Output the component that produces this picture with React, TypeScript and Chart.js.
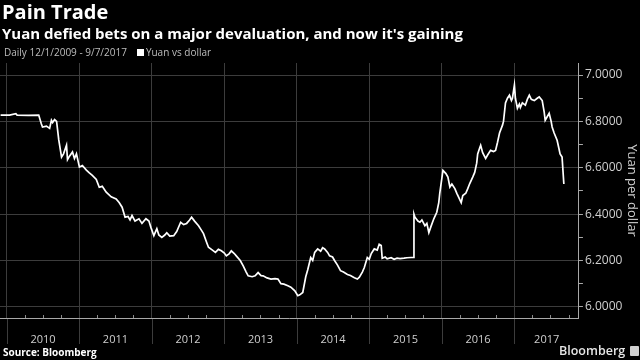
import React, { useEffect, useRef } from "react";
import { Chart, registerables } from "chart.js";

Chart.register(...registerables);

// ---- Data: daily USD/CNY ----
const dates: string[] = [
  "2009-12-01", "2010-01-15", "2010-02-16", "2010-02-22", "2010-04-20", "2010-06-11", "2010-06-24", "2010-06-30",
  "2010-07-20", "2010-08-05", "2010-08-14", "2010-08-20", "2010-08-30", "2010-09-09", "2010-09-20", "2010-10-04",
  "2010-10-14", "2010-10-29", "2010-11-03", "2010-11-13", "2010-11-28", "2010-12-08", "2010-12-18", "2011-01-02",
  "2011-01-17", "2011-02-06", "2011-02-21", "2011-03-08", "2011-03-28", "2011-04-12", "2011-04-27", "2011-05-17",
  "2011-06-11", "2011-07-06", "2011-07-21", "2011-08-05", "2011-08-20", "2011-09-04", "2011-09-14", "2011-09-24",
  "2011-10-09", "2011-10-29", "2011-11-13", "2011-12-03", "2011-12-18", "2011-12-28", "2012-01-12", "2012-01-27",
  "2012-02-06", "2012-02-21", "2012-03-07", "2012-03-17", "2012-04-01", "2012-04-21", "2012-05-06", "2012-05-26",
  "2012-06-10", "2012-06-25", "2012-07-10", "2012-07-20", "2012-08-04", "2012-08-24", "2012-09-08", "2012-09-18",
  "2012-10-03", "2012-10-13", "2012-11-02", "2012-11-17", "2012-12-02", "2012-12-17", "2013-01-01", "2013-01-11",
  "2013-01-26", "2013-02-05", "2013-02-20", "2013-03-02", "2013-03-22", "2013-04-06", "2013-04-21", "2013-05-01",
  "2013-05-21", "2013-06-05", "2013-06-20", "2013-07-05", "2013-07-15", "2013-08-04", "2013-08-24", "2013-09-13",
  "2013-09-28", "2013-10-13", "2013-10-28", "2013-11-17", "2013-12-02", "2013-12-22", "2014-01-06", "2014-01-16",
  "2014-01-31", "2014-02-15", "2014-02-25", "2014-03-12", "2014-03-22", "2014-04-01", "2014-04-16", "2014-05-01",
  "2014-05-11", "2014-05-21", "2014-06-05", "2014-06-15", "2014-06-30", "2014-07-10", "2014-07-25", "2014-08-09",
  "2014-08-24", "2014-09-13", "2014-09-28", "2014-10-18", "2014-11-02", "2014-11-12", "2014-11-27", "2014-12-07",
  "2014-12-22", "2015-01-01", "2015-01-11", "2015-01-26", "2015-02-10", "2015-02-20", "2015-03-02", "2015-03-07",
  "2015-03-22", "2015-04-01", "2015-04-21", "2015-05-06", "2015-05-21", "2015-06-05", "2015-06-25", "2015-07-10",
  "2015-07-30", "2015-08-10", "2015-08-14", "2015-08-19", "2015-09-03", "2015-09-13", "2015-09-23", "2015-10-08",
  "2015-10-18", "2015-10-28", "2015-11-07", "2015-11-22", "2015-12-07", "2015-12-17", "2015-12-22", "2016-01-07",
  "2016-01-22", "2016-02-01", "2016-02-11", "2016-02-21", "2016-03-07", "2016-03-17", "2016-04-08", "2016-04-16",
  "2016-05-01", "2016-05-11", "2016-05-21", "2016-06-05", "2016-06-15", "2016-06-25", "2016-06-30", "2016-07-10",
  "2016-07-15", "2016-07-25", "2016-08-09", "2016-08-19", "2016-09-03", "2016-09-18", "2016-09-28", "2016-10-08",
  "2016-10-18", "2016-11-02", "2016-11-07", "2016-11-17", "2016-11-27", "2016-12-07", "2016-12-17", "2016-12-22",
  "2017-01-01", "2017-01-06", "2017-01-16", "2017-01-26", "2017-01-31", "2017-02-10", "2017-02-25", "2017-03-07",
  "2017-03-17", "2017-03-27", "2017-04-11", "2017-04-26", "2017-05-06", "2017-05-21", "2017-05-31", "2017-06-05",
  "2017-06-15", "2017-06-25", "2017-07-05", "2017-07-10", "2017-07-20", "2017-08-04", "2017-08-14", "2017-08-19",
  "2017-08-29", "2017-09-07",
];

const yuan: number[] = [
  6.8275, 6.8270, 6.8330, 6.8272, 6.8260, 6.8275, 6.7900, 6.7760,
  6.7800, 6.7700, 6.8050, 6.7950, 6.8080, 6.8000, 6.7200, 6.6460,
  6.6600, 6.6970, 6.6350, 6.6500, 6.6680, 6.6400, 6.6600, 6.6030,
  6.6100, 6.5900, 6.5780, 6.5670, 6.5500, 6.5160, 6.5200, 6.4950,
  6.4750, 6.4660, 6.4500, 6.4300, 6.3870, 6.3900, 6.3750, 6.3940,
  6.3700, 6.3800, 6.3600, 6.3800, 6.3700, 6.3430, 6.3070, 6.3370,
  6.3100, 6.3000, 6.3100, 6.3200, 6.3050, 6.3070, 6.3250, 6.3650,
  6.3550, 6.3600, 6.3750, 6.3870, 6.3700, 6.3500, 6.3300, 6.3160,
  6.2800, 6.2570, 6.2450, 6.2350, 6.2480, 6.2420, 6.2320, 6.2200,
  6.2300, 6.2420, 6.2300, 6.2200, 6.2000, 6.1770, 6.1500, 6.1340,
  6.1300, 6.1340, 6.1480, 6.1350, 6.1340, 6.1250, 6.1200, 6.1220,
  6.1200, 6.1000, 6.0980, 6.0910, 6.0850, 6.0690, 6.0480, 6.0520,
  6.0620, 6.1300, 6.1600, 6.2130, 6.2000, 6.2350, 6.2500, 6.2400,
  6.2550, 6.2500, 6.2350, 6.2200, 6.2150, 6.2000, 6.1800, 6.1560,
  6.1500, 6.1400, 6.1350, 6.1260, 6.1200, 6.1280, 6.1500, 6.1700,
  6.2130, 6.2050, 6.2300, 6.2500, 6.2450, 6.2700, 6.2650, 6.2100,
  6.2150, 6.2070, 6.2120, 6.2050, 6.2100, 6.2080, 6.2100, 6.2120,
  6.2130, 6.2130, 6.4000, 6.3870, 6.3700, 6.3650, 6.3750, 6.3500,
  6.3600, 6.3200, 6.3450, 6.3800, 6.4080, 6.4500, 6.4900, 6.5890,
  6.5750, 6.5600, 6.5170, 6.5300, 6.5100, 6.4900, 6.4500, 6.4800,
  6.4900, 6.5100, 6.5320, 6.5600, 6.5800, 6.6200, 6.6600, 6.6850,
  6.6970, 6.6650, 6.6400, 6.6550, 6.6750, 6.6700, 6.6750, 6.7100,
  6.7500, 6.7840, 6.8000, 6.8800, 6.9000, 6.9130, 6.8900, 6.9000,
  6.9570, 6.9000, 6.8570, 6.8750, 6.8600, 6.8800, 6.8700, 6.8950,
  6.9130, 6.8950, 6.8900, 6.9000, 6.9060, 6.8900, 6.8400, 6.8050,
  6.8200, 6.8350, 6.8000, 6.7760, 6.7500, 6.7190, 6.6800, 6.6600,
  6.6460, 6.5300,
];

// ---- Axis setup values ----
const years: number[] = [2010, 2011, 2012, 2013, 2014, 2015, 2016, 2017];
const yTickValues: number[] = [6.0, 6.1, 6.2, 6.3, 6.4, 6.5, 6.6, 6.7, 6.8, 6.9, 7.0];
const yLabelledTicks: number[] = [6.0, 6.2, 6.4, 6.6, 6.8, 7.0];
const X_MIN = "2009-11-28";
const X_MAX = "2017-11-22";
const Y_MIN = 5.952;
const Y_MAX = 7.052;

const FONT = "'Open Sans', 'Noto Sans', sans-serif";
const GRID = "#3c3c3c";
const AXIS = "#a8a8a8";

export default function App() {
  const canvasRef = useRef<HTMLCanvasElement | null>(null);

  useEffect(() => {
    const canvas = canvasRef.current;
    if (!canvas) return;
    const xMin = Date.parse(X_MIN);
    const xMax = Date.parse(X_MAX);
    const yearStarts = years.map((y) => Date.UTC(y, 0, 1));
    const labelCenters = years.map((y) => {
      const s = Math.max(Date.UTC(y, 0, 1), xMin);
      const e = Math.min(Date.UTC(y + 1, 0, 1), xMax);
      return (s + e) / 2;
    });
    const quarterStarts: number[] = [];
    years.forEach((y) => {
      [3, 6, 9].forEach((m) => {
        const v = Date.UTC(y, m, 1);
        if (v < xMax) quarterStarts.push(v);
      });
    });
    const isYearStart = (v: number) => yearStarts.indexOf(v) >= 0;
    const isMajorY = (v: number) => yLabelledTicks.some((t) => Math.abs(t - v) < 1e-6);

    // quarter tick marks on the axis line and year separators running into the label band
    const axisMarks = {
      id: "axisMarks",
      afterDraw(chart: any) {
        const xs = chart.scales.x;
        const { ctx, chartArea } = chart;
        ctx.save();
        ctx.lineWidth = 1;
        ctx.strokeStyle = GRID;
        yearStarts.forEach((v) => {
          const px = Math.round(xs.getPixelForValue(v)) + 0.5;
          ctx.beginPath();
          ctx.moveTo(px, chartArea.bottom + 1);
          ctx.lineTo(px, chartArea.bottom + 26);
          ctx.stroke();
        });
        ctx.strokeStyle = "#8a8a8a";
        quarterStarts.forEach((q) => {
          const px = Math.round(xs.getPixelForValue(q)) + 0.5;
          ctx.beginPath();
          ctx.moveTo(px, chartArea.bottom - 3);
          ctx.lineTo(px, chartArea.bottom);
          ctx.stroke();
        });
        ctx.restore();
      },
    };

    const chart = new Chart(canvas, {
      type: "line",
      data: {
        datasets: [
          {
            label: "Yuan vs dollar",
            data: dates.map((d, i) => ({ x: Date.parse(d), y: yuan[i] })),
            borderColor: "#ffffff",
            borderWidth: 1.7,
            pointRadius: 0,
            tension: 0,
            fill: false,
          },
        ],
      },
      options: {
        animation: false,
        responsive: false,
        devicePixelRatio: 1,
        layout: { padding: { top: 63, bottom: 12, left: 0, right: 0 } },
        plugins: {
          legend: { display: false },
          tooltip: { enabled: false },
          title: { display: false },
        },
        scales: {
          x: {
            type: "linear",
            min: xMin,
            max: xMax,
            afterBuildTicks: (scale: any) => {
              const all = [...yearStarts, ...labelCenters].sort((a, b) => a - b);
              scale.ticks = all.map((v) => ({ value: v }));
            },
            afterFit: (scale: any) => {
              scale.height = 30;
            },
            ticks: {
              autoSkip: false,
              maxRotation: 0,
              minRotation: 0,
              padding: 0,
              color: "#cfcfcf",
              font: { family: FONT, size: 11 },
              callback: (value: any) => {
                const idx = labelCenters.indexOf(Number(value));
                return idx >= 0 ? String(years[idx]) : "";
              },
            },
            grid: {
              color: (ctx: any) => (ctx.tick && isYearStart(ctx.tick.value) ? GRID : "rgba(0,0,0,0)"),
              tickColor: "rgba(0,0,0,0)",
              tickLength: 15,
              lineWidth: 1,
            },
            border: { display: true, color: AXIS, width: 1 },
          },
          y: {
            type: "linear",
            position: "right",
            min: Y_MIN,
            max: Y_MAX,
            afterBuildTicks: (scale: any) => {
              scale.ticks = yTickValues.map((v) => ({ value: v }));
            },
            ticks: {
              autoSkip: false,
              padding: 2,
              color: "#cfcfcf",
              font: { family: FONT, size: 12 },
              callback: (value: any) => (isMajorY(Number(value)) ? Number(value).toFixed(4) : ""),
            },
            grid: {
              color: (ctx: any) => (ctx.tick && isMajorY(ctx.tick.value) ? GRID : "rgba(0,0,0,0)"),
              tickColor: AXIS,
              tickLength: 4,
            },
            border: { display: true, color: AXIS, width: 1 },
            title: {
              display: true,
              text: "Yuan per dollar",
              color: "#cfcfcf",
              font: { family: FONT, size: 13 },
              padding: { top: 0, bottom: 0 },
            },
          },
        },
      },
      plugins: [axisMarks],
    } as any);
    return () => chart.destroy();
  }, []);

  const base: React.CSSProperties = {
    position: "absolute",
    fontFamily: FONT,
    whiteSpace: "nowrap",
    lineHeight: 1,
    margin: 0,
  };

  return (
    <div
      style={{
        position: "fixed",
        left: 0,
        top: 0,
        width: 640,
        height: 360,
        background: "#000",
        overflow: "hidden",
      }}
    >
      <canvas ref={canvasRef} width={640} height={360} style={{ position: "absolute", left: 0, top: 0 }} />
      <div style={{ ...base, left: 2, top: 2, fontSize: 20, fontWeight: 700, color: "#ffffff" }}>Pain Trade</div>
      <div style={{ ...base, left: 2, top: 26, fontSize: 15, fontWeight: 700, color: "#ffffff" }}>
        Yuan defied bets on a major devaluation, and now it's gaining
      </div>
      <div style={{ ...base, left: 4, top: 47, fontSize: 10, color: "#bdbdbd", display: "flex", alignItems: "center" }}>
        <span>Daily 12/1/2009 - 9/7/2017</span>
        <span style={{ display: "inline-block", width: 7, height: 7, background: "#ffffff", marginLeft: 10, marginRight: 2 }} />
        <span>Yuan vs dollar</span>
      </div>
      <div style={{ ...base, left: 3, top: 347, fontSize: 10, fontWeight: 700, color: "#ffffff" }}>Source: Bloomberg</div>
      <div style={{ ...base, left: 559, top: 345, fontSize: 12.5, fontWeight: 600, color: "#e6e6e6", display: "flex", alignItems: "center" }}>
        <span>Bloomberg</span>
        <span
          style={{
            display: "inline-block",
            width: 9,
            height: 10,
            background: "#d0d0d0",
            marginLeft: 5,
            borderRadius: 1,
          }}
        />
      </div>
    </div>
  );
}
